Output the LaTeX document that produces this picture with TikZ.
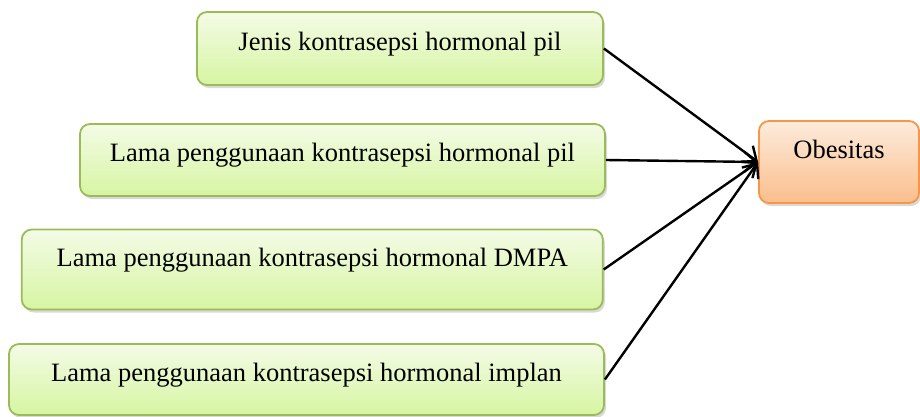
\documentclass[tikz,border=0pt]{standalone}
\usepackage{fontspec}
\setmainfont{Liberation Serif}
\usetikzlibrary{arrows.meta,shadows}
\definecolor{gtop}{RGB}{244,251,230}
\definecolor{gbot}{RGB}{214,245,162}
\definecolor{gline}{RGB}{155,187,89}
\definecolor{otop}{RGB}{253,235,220}
\definecolor{obot}{RGB}{250,190,140}
\definecolor{oline}{RGB}{247,150,70}
\tikzset{
  gbox/.style={draw=gline, line width=1.8pt, rounded corners=10pt,
    top color=gtop, bottom color=gbot, inner sep=0pt,
    drop shadow={shadow xshift=2pt, shadow yshift=-3pt, opacity=0.25, fill=black!60},
    font=\fontsize{26.5}{30}\selectfont, text height=18pt, text depth=15pt},
  obox/.style={draw=oline, line width=1.8pt, rounded corners=10pt,
    top color=otop, bottom color=obot, inner sep=0pt,
    drop shadow={shadow xshift=2pt, shadow yshift=-3pt, opacity=0.25, fill=black!60},
    font=\fontsize{26.5}{30}\selectfont, text height=18pt, text depth=25pt},
  conn/.style={line width=2.4pt, -{Straight Barb[length=12pt,width=20pt,line width=2.4pt]}}
}
\begin{document}
\begin{tikzpicture}[x=1pt,y=-1pt]
\useasboundingbox (0,0) rectangle (920,416);
\node[gbox, minimum width=406pt, minimum height=73pt] (b1) at (400,48.5) {Jenis kontrasepsi hormonal pil};
\node[gbox, minimum width=525pt, minimum height=72pt] (b2) at (342.5,160) {Lama penggunaan kontrasepsi hormonal pil};
\node[gbox, minimum width=581pt, minimum height=80pt, text depth=25pt] (b3) at (312.3,269.5) {Lama penggunaan kontrasepsi hormonal DMPA};
\node[gbox, minimum width=595pt, minimum height=71pt] (b4) at (306.5,379.5) {Lama penggunaan kontrasepsi hormonal implan};
\node[obox, minimum width=160pt, minimum height=82pt] (ob) at (839,162) {Obesitas};
\draw[conn] (b1.east) -- (ob.west);
\draw[conn] (b2.east) -- (ob.west);
\draw[conn] (b3.east) -- (ob.west);
\draw[conn] (b4.east) -- (ob.west);
\end{tikzpicture}
\end{document}
